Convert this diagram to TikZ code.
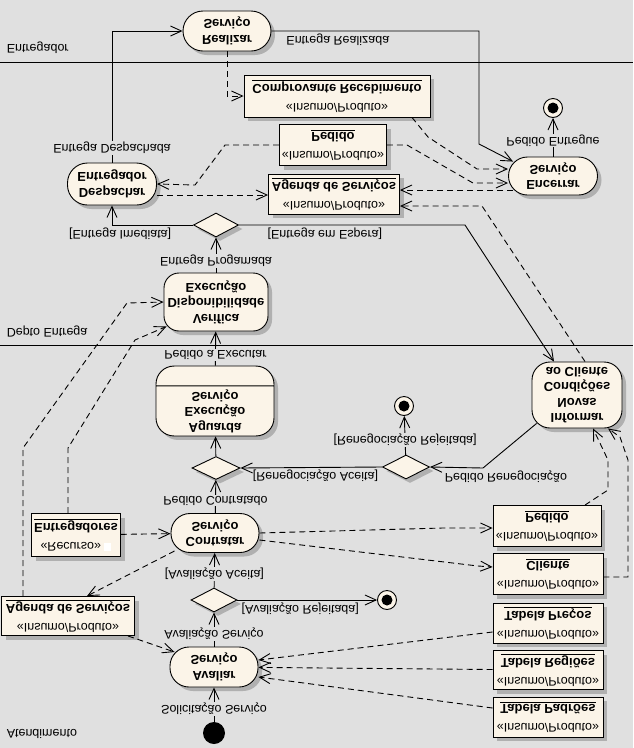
\documentclass[tikz,border=0pt]{standalone}
\usepackage{fontspec}
\setmainfont{Liberation Sans}
\usetikzlibrary{arrows.meta,positioning,shapes.geometric,shapes.multipart,shadows,calc}
\definecolor{fundo}{HTML}{E0E0E0}
\definecolor{creme}{HTML}{FBF4E8}
\definecolor{sombra}{HTML}{B0B0B0}
\newcommand{\fonte}{\fontsize{12.5}{15}\selectfont}
\tikzset{
  sombreado/.style={drop shadow={shadow xshift=4pt,shadow yshift=-4pt,fill=sombra,opacity=1}},
  acao/.style={draw,fill=creme,rounded corners=19pt,align=center,
    font=\fontsize{13}{15.5}\selectfont\bfseries,inner sep=2pt,sombreado},
  objeto/.style={draw,fill=creme,align=center,inner sep=2pt,sombreado},
  decisao/.style={diamond,draw,fill=creme,inner sep=0pt,minimum width=46pt,minimum height=24pt,sombreado},
  inicio/.style={circle,fill=black,minimum size=22pt,inner sep=0pt},
  fim/.style={circle,draw,fill=creme,minimum size=19pt,inner sep=0pt,
    path picture={\fill[black] (path picture bounding box.center) circle (5.5pt);}},
  fluxo/.style={-{Straight Barb[length=11pt,width=10pt]}},
  objfluxo/.style={fluxo,dash pattern=on 6pt off 4pt},
  rot/.style={fill=fundo,inner sep=1pt},
  rotb/.style={above,inner sep=2pt},
}
\newcommand{\insumo}[1]{«Insumo/Produto»\\[4pt]\textbf{\fontsize{13}{15}\selectfont\underline{#1}}}
\begin{document}
\begin{tikzpicture}[yscale=-1,transform shape,x=1pt,y=1pt,line width=0.9pt,font=\fonte]
\path[use as bounding box,fill=fundo] (0,0) rectangle (633,748);
% raias
\draw (0,62) -- (633,62);
\draw (0,345) -- (633,345);
\node[anchor=west] (raia1) at (3,48) {Entregador};
\node[anchor=west] (raia2) at (3,331) {Depto Entrega};
\node[anchor=west] (raia3) at (3,734) {Atendimento};

% Atendimento
\node[inicio] (ini) at (214,733) {};
\node[acao,minimum width=88pt,minimum height=40pt] (avaliar) at (214,667) {Avaliar\\Serviço};
\node[decisao] (dec1) at (214,600) {};
\node[fim] (fim1) at (387,600) {};
\node[acao,minimum width=88pt,minimum height=39pt] (contratar) at (215,533) {Contratar\\Serviço};
\node[decisao,minimum width=48pt,minimum height=23pt] (dec2) at (216,468) {};
\node[acao,rounded corners=18pt,rectangle split,rectangle split parts=2,minimum width=118pt,
  inner ysep=3pt,rectangle split empty part height=13pt] (aguarda) at (215,401)
  {Aguarda\\Execução\\Serviço\nodepart{two}};
\node[objeto,minimum width=89pt,minimum height=43pt] (entregadores) at (76,535)
  {«Recurso»~\textcolor{white}{\rule{7pt}{8pt}}\\[4pt]\textbf{\fontsize{13}{15}\selectfont\underline{Entregadores}}};
\node[objeto,minimum width=133pt,minimum height=39pt] (agenda2) at (68,616) {\insumo{Agenda de Serviços}};
\node[objeto,minimum width=110pt,minimum height=40pt] (precos) at (548,623) {\insumo{Tabela Preços}};
\node[objeto,minimum width=110pt,minimum height=39pt] (regioes) at (548,670) {\insumo{Tabela Regiões}};
\node[objeto,minimum width=110pt,minimum height=40pt] (padroes) at (548,717) {\insumo{Tabela Padrões}};
\node[objeto,minimum width=108pt,minimum height=41pt] (pedido2) at (547,526) {\insumo{Pedido}};
\node[objeto,minimum width=110pt,minimum height=41pt] (cliente) at (548,574) {\insumo{Cliente}};
\node[acao,rounded corners=18pt,minimum width=90pt,minimum height=66pt] (informar) at (577,395)
  {Informar\\Novas\\Condições\\ao Cliente};
\node[fim] (fim2) at (404,406) {};
\node[decisao,minimum width=47pt] (dec3) at (406,467) {};

% Depto Entrega e Entregador
\node[acao,rounded corners=15pt,minimum width=104pt,minimum height=58pt] (verifica) at (216,302)
  {Verifica\\Disponibilidade\\Execução};
\node[decisao,minimum width=45pt] (dec4) at (216,225) {};
\node[acao,rounded corners=20pt,minimum width=89pt,minimum height=42pt] (despachar) at (112,184) {Despachar\\Entregador};
\node[acao,rounded corners=20pt,minimum width=88pt,minimum height=40pt] (realizar) at (227,31) {Realizar\\Serviço};
\node[objeto,minimum width=186pt,minimum height=42pt] (comprovante) at (337,96) {\insumo{Comprovante Recebimento}};
\node[objeto,minimum width=107pt,minimum height=41pt] (pedido1) at (333,145) {\insumo{Pedido}};
\node[objeto,minimum width=131pt,minimum height=40pt] (agenda1) at (334,194) {\insumo{Agenda de Serviços}};
\node[acao,minimum width=89pt,minimum height=38pt] (encerrar) at (553,176) {Encerrar\\Serviço};
\node[fim] (fim3) at (553,108) {};

% fluxo de controle
\draw[fluxo] (ini) -- node[rot,pos=.37] {Solicitação Serviço} (avaliar);
\draw[fluxo] (avaliar) -- node[rot,pos=.37] {Avaliação Serviço} (dec1);
\draw[fluxo] (dec1) -- node[rot,pos=.4] {[Avaliação Aceita]} (contratar);
\draw[fluxo] (dec1.east) -- node[rotb,pos=.45] {[Avaliação Rejeitada]} (fim1);
\draw[fluxo] (contratar) -- node[rot,pos=.37] {Pedido Contratado} (dec2);
\draw[fluxo] (dec2) -- (aguarda);
\draw[fluxo] (aguarda) -- node[rot,pos=.31] {Pedido a Executar} (verifica);
\draw[fluxo] (verifica) -- node[rot,pos=.33] {Entrega Progamada} (dec4);
\draw[fluxo] (dec4.west) -- node[rotb,pos=.9] {[Entrega Imediata]} (despachar.north |- dec4.west) -- (despachar.north);
\draw[fluxo] (dec4.east) -- node[rotb,pos=.38] {[Entrega em Espera]} (465,225) -- ($(informar.south)+(-23,0)$);
\draw[fluxo] (despachar.south) -- node[rot,pos=.11] {Entrega Despachada} (despachar.south |- realizar.west) -- (realizar.west);
\draw[fluxo] (realizar.east) -- node[rotb,pos=.32] {Entrega Realizada} (479,31) -- (479,144) -- ($(encerrar.south west)+(5,5)$);
\draw[fluxo] (encerrar) -- node[rot,pos=.42] {Pedido Entregue} (fim3);
\draw[fluxo] ($(informar.north west)+(5,-5)$) -- (483,468) node[rotb,xshift=23pt] {Pedido Renegociação} -- (dec3.east);
\draw[fluxo] (dec3) -- node[rot,pos=.38] {[Renegociação Rejeitada]} (fim2);
\draw[fluxo] (dec3.west) -- node[rotb,pos=.47] {[Renegociação Aceita]} (dec2.east);

% fluxo de objetos
\draw[objfluxo] (realizar.north) |- (comprovante.west);
\draw[objfluxo] ($(comprovante.north)+(75,0)$) -- (428,137) -- (477,169) -- (encerrar.west |- 0,169);
\draw[objfluxo] (pedido1.east) -- (407,145) -- (473,183) -- (encerrar.west |- 0,183);
\draw[objfluxo] ($(encerrar.west)+(5,14)$) -- (agenda1.east |- 0,190);
\draw[objfluxo] ($(informar.south)+(8,0)$) -- (482,206) -- (agenda1.east |- 0,206);
\draw[objfluxo] (pedido1.west) -- (225,145) -- (195,185) -- (despachar.east);
\draw[objfluxo] (despachar.east |- 0,195) -- (agenda1.west |- 0,195);
\draw[objfluxo] (agenda2.south -| 23,0) -- (23,448) -- (127,303) -- (verifica.west);
\draw[objfluxo] (entregadores.south -| 68,0) -- (68,448) -- (135,340) -- ($(verifica.north west)+(3,-5)$);
\draw[objfluxo] (entregadores) -- (contratar);
\draw[objfluxo] ($(contratar.north west)+(4,-2)$) -- ($(agenda2.south)+(19,0)$);
\draw[objfluxo] ($(agenda2.north east)+(-7,0)$) -- ($(avaliar.west)+(5,-15)$);
\draw[objfluxo] ($(precos.west)+(0,9)$) -- ($(avaliar.east)+(0,-7)$);
\draw[objfluxo] (regioes) -- (avaliar);
\draw[objfluxo] ($(padroes.west)+(0,-9)$) -- ($(avaliar.east)+(0,10)$);
\draw[objfluxo] (contratar.east) -- (443,528) -- (pedido2.west |- 0,528);
\draw[objfluxo] ($(contratar.east)+(0,7)$) -- (478,566) -- (cliente.west |- 0,567);
\draw[objfluxo] ($(pedido2.south)+(38,0)$) -- (608,490) -- (608,460) -- ($(informar.north)+(16,0)$);
\draw[objfluxo] ($(cliente.east)+(0,3)$) -- (628,577) -- (628,460) -- (620,437) -- ($(informar.north)+(31,0)$);
\end{tikzpicture}
\end{document}
